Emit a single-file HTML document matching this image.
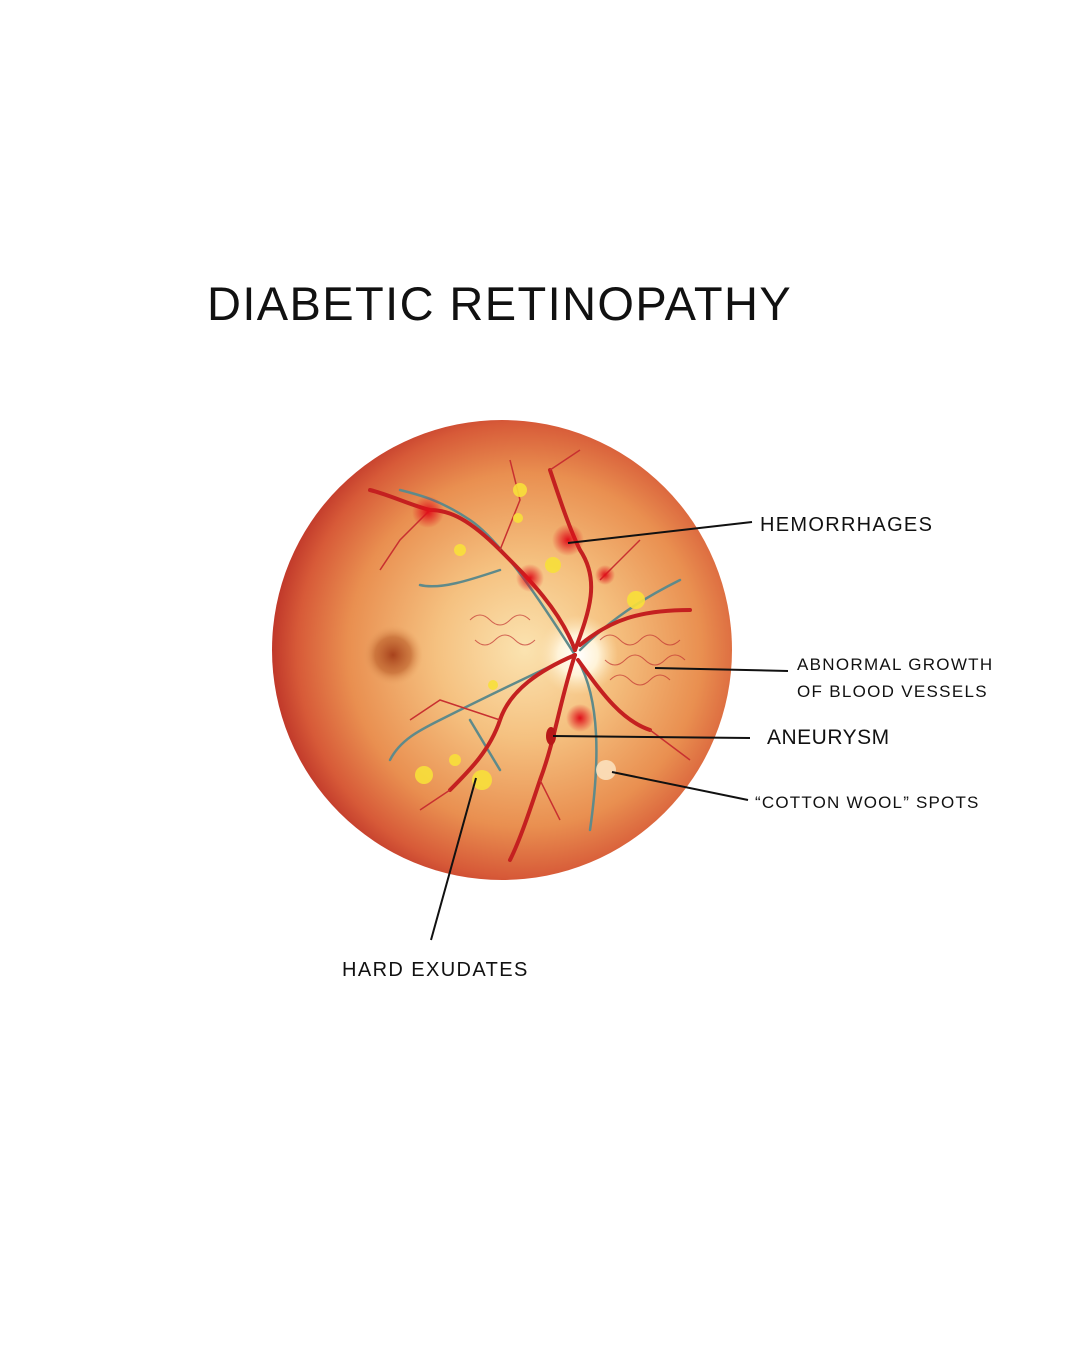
<!DOCTYPE html>
<html><head><meta charset="utf-8"><style>
html,body{margin:0;padding:0;background:#fff;}
body{width:1080px;height:1350px;position:relative;overflow:hidden;font-family:"Liberation Sans",sans-serif;color:#111;}
.t{position:absolute;white-space:nowrap;letter-spacing:1.2px;}
</style></head><body>
<div class="t" style="left:207px;top:276px;font-size:47px;letter-spacing:1.4px;">DIABETIC RETINOPATHY</div>
<svg width="1080" height="1350" style="position:absolute;left:0;top:0">
<defs>
<radialGradient id="g" cx="0.55" cy="0.5" r="0.55">
<stop offset="0" stop-color="#fbe3b0"/>
<stop offset="0.35" stop-color="#f5c180"/>
<stop offset="0.7" stop-color="#e98f50"/>
<stop offset="0.9" stop-color="#d75a38"/>
<stop offset="1" stop-color="#c0382a"/>
</radialGradient>
<radialGradient id="f"><stop offset="0" stop-color="#a8421c"/><stop offset="0.6" stop-color="#c0652f" stop-opacity="0.7"/><stop offset="1" stop-color="#e8a060" stop-opacity="0"/></radialGradient>
<radialGradient id="d"><stop offset="0" stop-color="#fff"/><stop offset="0.5" stop-color="#fff3d8"/><stop offset="1" stop-color="#fbe0b0" stop-opacity="0"/></radialGradient>
<radialGradient id="h"><stop offset="0" stop-color="#e0101a"/><stop offset="1" stop-color="#e0101a" stop-opacity="0"/></radialGradient>
</defs>
<circle cx="502" cy="650" r="230" fill="url(#g)"/>
<circle cx="393" cy="655" r="30" fill="url(#f)"/>
<circle cx="578" cy="655" r="40" fill="url(#d)"/>
<g fill="none" stroke="#5f8a8a" stroke-width="2.5" stroke-linecap="round">
<path d="M575 655 C540 600 500 540 470 520 C440 500 420 495 400 490"/>
<path d="M575 655 C520 680 480 700 440 720 C420 730 400 740 390 760"/>
<path d="M578 660 C600 700 600 760 590 830"/>
<path d="M580 650 C610 620 640 600 680 580"/>
<path d="M500 570 C470 580 440 590 420 585"/>
<path d="M470 720 L500 770"/>
</g>
<g fill="none" stroke="#c42020" stroke-width="4" stroke-linecap="round">
<path d="M575 650 C560 610 530 580 500 550 C470 520 450 510 430 510 C410 505 390 495 370 490"/>
<path d="M575 650 C590 610 600 580 580 550 C570 530 560 500 550 470"/>
<path d="M575 655 C560 700 555 740 540 780 C530 810 520 840 510 860"/>
<path d="M575 655 C540 670 510 690 500 720 C490 750 470 770 450 790"/>
<path d="M578 660 C600 690 620 720 650 730"/>
<path d="M580 645 C610 620 640 610 690 610"/>
</g>
<g fill="none" stroke="#c83030" stroke-width="1.5">
<path d="M430 510 L400 540 L380 570"/><path d="M500 550 L520 500 L510 460"/><path d="M550 470 L580 450"/>
<path d="M500 720 L440 700 L410 720"/><path d="M540 780 L560 820"/><path d="M450 790 L420 810"/>
<path d="M650 730 L690 760"/><path d="M600 580 L640 540"/>
</g>
<g stroke="#c03030" stroke-width="1" fill="none" opacity="0.7">
<path d="M470 620 q10 -10 20 0 t20 0 t20 0 M475 640 q10 10 20 0 t20 0 t20 0 M600 640 q10 -10 20 0 t20 0 t20 0 t20 0 M605 660 q10 10 20 0 t20 0 t20 0 t20 0 M610 680 q10 -10 20 0 t20 0 t20 0"/>
</g>
<g fill="url(#h)">
<circle cx="428" cy="512" r="16"/><circle cx="568" cy="540" r="16"/><circle cx="530" cy="578" r="14"/>
<circle cx="580" cy="718" r="14"/><circle cx="605" cy="575" r="10"/>
</g>
<ellipse cx="551" cy="736" rx="5" ry="9" fill="#b81818"/>
<g fill="#f8e03a" opacity="0.9">
<circle cx="424" cy="775" r="9"/><circle cx="482" cy="780" r="10"/><circle cx="460" cy="550" r="6"/>
<circle cx="636" cy="600" r="9"/><circle cx="553" cy="565" r="8"/><circle cx="520" cy="490" r="7"/>
<circle cx="518" cy="518" r="5"/><circle cx="455" cy="760" r="6"/><circle cx="493" cy="685" r="5"/>
</g>
<circle cx="606" cy="770" r="10" fill="#fde8c8" opacity="0.8"/>
<g stroke="#111" stroke-width="2">
<line x1="568" y1="543" x2="752" y2="522"/>
<line x1="655" y1="668" x2="788" y2="671"/>
<line x1="553" y1="736" x2="750" y2="738"/>
<line x1="612" y1="772" x2="748" y2="800"/>
<line x1="476" y1="778" x2="431" y2="940"/>
</g>
</svg>
<div class="t" style="left:760px;top:514px;font-size:20px;letter-spacing:1.3px;">HEMORRHAGES</div>
<div class="t" style="left:797px;top:651px;font-size:17px;line-height:27px;letter-spacing:1.3px;">ABNORMAL GROWTH<br>OF BLOOD VESSELS</div>
<div class="t" style="left:767px;top:726px;font-size:21px;letter-spacing:0.5px;">ANEURYSM</div>
<div class="t" style="left:755px;top:793px;font-size:17px;letter-spacing:1.2px;">“COTTON WOOL” SPOTS</div>
<div class="t" style="left:342px;top:959px;font-size:20px;letter-spacing:1.4px;">HARD EXUDATES</div>
</body></html>
